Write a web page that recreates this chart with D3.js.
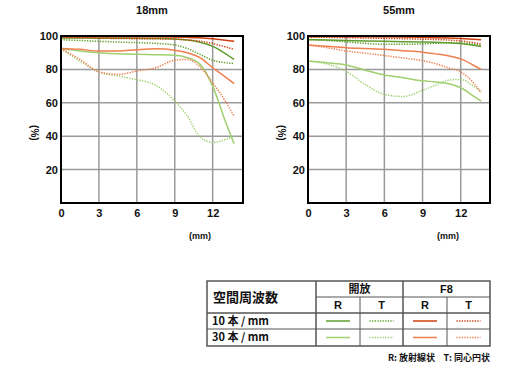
<!DOCTYPE html>
<html lang="ja">
<head>
<meta charset="UTF-8">
<title>MTF</title>
<style>
  body { margin: 0; background: #fff; }
  svg { display: block; }
  text { font-family: 'Liberation Sans', Arial, sans-serif; font-weight: bold; fill: #111; }
  .jp { font-family: 'Noto Sans CJK JP', sans-serif; }
</style>
</head>
<body>
<svg id="chart" width="520" height="371"></svg>
<script src="https://d3js.org/d3.v7.min.js"></script>
<script>
// image height positions (mm)
const pos18 = [0, 1.5, 3, 4.5, 6, 7.5, 9, 10, 11, 12, 13, 13.7];
const pos55 = [0, 1.5, 3, 4.5, 6, 7.5, 9, 10, 11, 12, 13, 13.6];

// 18mm
const w18_openR10 = [98.8, 98.8, 98.7, 98.7, 98.6, 98.5, 98.2, 97.6, 96.3, 93.8, 89.5, 86];
const w18_openT10 = [97.8, 97.3, 96.8, 96.4, 96, 95.6, 94.6, 92.5, 89, 85.5, 84, 83.5];
const w18_openR30 = [92.3, 91, 90, 89.3, 89, 88.8, 88.5, 87, 83, 70, 49, 35.5];
const w18_openT30 = [92.3, 85, 78.5, 76, 73.8, 70.5, 61, 52, 39.5, 36.3, 38, 40];
const w18_f8R10 = [99.6, 99.6, 99.6, 99.6, 99.6, 99.5, 99.4, 99.2, 98.9, 98.3, 97.5, 96.8];
const w18_f8T10 = [99.2, 99, 98.7, 98.5, 98.4, 98.3, 98.1, 97.7, 96.9, 95.5, 93.5, 92];
const w18_f8R30 = [92.5, 92, 91, 91, 91.8, 92.3, 91.5, 90, 87, 81, 75.5, 71.5];
const w18_f8T30 = [92.3, 86, 78.5, 77, 79, 81, 85.5, 86, 81.5, 72, 61, 52];

// 55mm
const t55_openR10 = [97.8, 97.6, 97.3, 97, 96.8, 96.6, 96.4, 96.2, 96, 95.5, 94.5, 93.7];
const t55_openT10 = [98, 97.3, 96.5, 95.6, 95, 95, 95.3, 95.6, 95.9, 95.8, 95, 94.4];
const t55_openR30 = [85, 84, 82.7, 79.5, 76.7, 75, 73.2, 72.5, 71.5, 69, 64, 61];
const t55_openT30 = [85, 83.2, 78.8, 71, 65, 63.8, 67.5, 70.5, 73.5, 74, 70, 67];
const t55_f8R10 = [99.7, 99.7, 99.6, 99.6, 99.5, 99.4, 99.2, 99, 98.8, 98.5, 98.1, 97.8];
const t55_f8T10 = [99.3, 99.2, 99, 98.8, 98.6, 98.4, 98.1, 97.9, 97.6, 97, 96, 95.2];
const t55_f8R30 = [94.6, 93.8, 93, 92.5, 92, 91.2, 90.3, 89.3, 88.2, 86.3, 82.5, 80];
const t55_f8T30 = [94.6, 93, 91, 89.7, 88.3, 86.8, 85.2, 83.5, 81, 78.5, 72, 66];

const xTicks = [0, 3, 6, 9, 12];
const yTicks = [20, 40, 60, 80, 100];
const titles = ["18mm", "55mm"];

// line styles: key -> [colour, dashed]
const styles = {
  openR10: ["#5f9f2f", false], openT10: ["#5f9f2f", true],
  openR30: ["#9fcf6f", false], openT30: ["#9fcf6f", true],
  f8R10: ["#cf3f0f", false], f8T10: ["#cf3f0f", true],
  f8R30: ["#ef7f4f", false], f8T30: ["#ef7f4f", true]
};
const order = ["openT30", "openR30", "f8T30", "f8R30", "openT10", "openR10", "f8T10", "f8R10"];

const svg = d3.select("#chart");

function drawChart(left, right, xMax, title, pos, series) {
  const x = d3.scaleLinear().domain([0, xMax]).range([left, right]);
  const y = d3.scaleLinear().domain([0, 100]).range([203, 36]);
  const g = svg.append("g");

  // grid
  g.selectAll(".gx").data(xTicks.slice(1)).enter().append("line")
    .attr("x1", d => x(d)).attr("x2", d => x(d))
    .attr("y1", y(0)).attr("y2", y(100))
    .attr("stroke", "#9a9a9a").attr("stroke-width", 1.5);
  g.selectAll(".gy").data(yTicks.slice(0, -1)).enter().append("line")
    .attr("x1", x(0)).attr("x2", x(xMax))
    .attr("y1", d => y(d)).attr("y2", d => y(d))
    .attr("stroke", "#9a9a9a").attr("stroke-width", 1.5);

  // curves
  const line = d3.line().x(d => x(d[0])).y(d => y(d[1])).curve(d3.curveMonotoneX);
  order.forEach(k => {
    const pts = pos.map((p, i) => [p, series[k][i]]);
    g.append("path").attr("d", line(pts))
      .attr("fill", "none")
      .attr("stroke", styles[k][0])
      .attr("stroke-width", 1.5)
      .attr("stroke-dasharray", styles[k][1] ? "1.3,1.3" : null);
  });

  // frame
  g.append("rect").attr("x", x(0)).attr("y", y(100))
    .attr("width", x(xMax) - x(0)).attr("height", y(0) - y(100))
    .attr("fill", "none").attr("stroke", "#000").attr("stroke-width", 2);

  // axes (labels only)
  const ax = g.append("g").attr("transform", `translate(0,${y(0) + 3})`)
    .call(d3.axisBottom(x).tickValues(xTicks).tickSize(0).tickPadding(3));
  const ay = g.append("g").attr("transform", `translate(${x(0) - 3},0)`)
    .call(d3.axisLeft(y).tickValues(yTicks).tickSize(0).tickPadding(0));
  [ax, ay].forEach(a => {
    a.select(".domain").remove();
    a.selectAll("text").attr("font-size", 11).attr("font-weight", "bold")
      .attr("font-family", "'Liberation Sans', Arial, sans-serif").attr("fill", "#111");
  });

  g.append("text").attr("x", (x(0) + x(xMax)) / 2).attr("y", 14)
    .attr("text-anchor", "middle").attr("font-size", 11).text(title);
  g.append("text").attr("x", x(11)).attr("y", 239)
    .attr("text-anchor", "middle").attr("font-size", 9).text("(mm)");
  g.append("text").attr("transform", `translate(${left - 30},${y(42)}) rotate(90)`)
    .attr("text-anchor", "middle").attr("font-size", 10).text("(%)");
}

drawChart(61, 243, 14.4, titles[0], pos18, {
  openR10: w18_openR10, openT10: w18_openT10, openR30: w18_openR30, openT30: w18_openT30,
  f8R10: w18_f8R10, f8T10: w18_f8T10, f8R30: w18_f8R30, f8T30: w18_f8T30
});
drawChart(308, 490, 14.3, titles[1], pos55, {
  openR10: t55_openR10, openT10: t55_openT10, openR30: t55_openR30, openT30: t55_openT30,
  f8R10: t55_f8R10, f8T10: t55_f8T10, f8R30: t55_f8R30, f8T30: t55_f8T30
});

// legend table
const colX = [207, 316, 360, 403, 447, 490];
const rowY = [281, 297, 313, 329, 346];
const tb = svg.append("g");
const bc = "#555";
tb.append("rect").attr("x", colX[0]).attr("y", rowY[0])
  .attr("width", colX[5] - colX[0]).attr("height", rowY[4] - rowY[0])
  .attr("fill", "none").attr("stroke", bc).attr("stroke-width", 1.5);
tb.append("line").attr("x1", colX[1]).attr("x2", colX[5]).attr("y1", rowY[1]).attr("y2", rowY[1]).attr("stroke", bc);
[rowY[2], rowY[3]].forEach(yy => tb.append("line").attr("x1", colX[0]).attr("x2", colX[5])
  .attr("y1", yy).attr("y2", yy).attr("stroke", bc).attr("stroke-width", yy === rowY[2] ? 1.5 : 1));
[colX[1], colX[3]].forEach(xx => tb.append("line").attr("x1", xx).attr("x2", xx)
  .attr("y1", rowY[0]).attr("y2", rowY[4]).attr("stroke", bc).attr("stroke-width", 1.5));
[colX[2], colX[4]].forEach(xx => tb.append("line").attr("x1", xx).attr("x2", xx)
  .attr("y1", rowY[1]).attr("y2", rowY[4]).attr("stroke", bc));

tb.append("text").attr("class", "jp").attr("x", 213).attr("y", 302)
  .attr("font-size", 13).text("空間周波数");
tb.append("text").attr("class", "jp").attr("x", (colX[1] + colX[3]) / 2).attr("y", 293)
  .attr("text-anchor", "middle").attr("font-size", 11).text("開放");
tb.append("text").attr("x", (colX[3] + colX[5]) / 2).attr("y", 293)
  .attr("text-anchor", "middle").attr("font-size", 11).text("F8");
["R", "T", "R", "T"].forEach((t, i) => tb.append("text")
  .attr("x", (colX[i + 1] + colX[i + 2]) / 2).attr("y", 309)
  .attr("text-anchor", "middle").attr("font-size", 11).text(t));
["10 本 / mm", "30 本 / mm"].forEach((t, i) => tb.append("text").attr("class", "jp")
  .attr("x", 212).attr("y", rowY[i + 2] + 12).attr("font-size", 11).text(t));
const legendKeys = [["openR10", "openT10", "f8R10", "f8T10"], ["openR30", "openT30", "f8R30", "f8T30"]];
legendKeys.forEach((row, r) => row.forEach((k, c) => {
  const cx = (colX[c + 1] + colX[c + 2]) / 2;
  const cy = (rowY[r + 2] + rowY[r + 3]) / 2;
  tb.append("line").attr("x1", cx - 12).attr("x2", cx + 12).attr("y1", cy).attr("y2", cy)
    .attr("stroke", styles[k][0]).attr("stroke-width", 1.5)
    .attr("stroke-dasharray", styles[k][1] ? "1.3,1.3" : null);
}));
tb.append("text").attr("class", "jp").attr("x", 435).attr("y", 361)
  .attr("text-anchor", "end").attr("font-size", 9).text("R: 放射線状");
tb.append("text").attr("class", "jp").attr("x", 490).attr("y", 361)
  .attr("text-anchor", "end").attr("font-size", 9).text("T: 同心円状");
</script>
</body>
</html>
